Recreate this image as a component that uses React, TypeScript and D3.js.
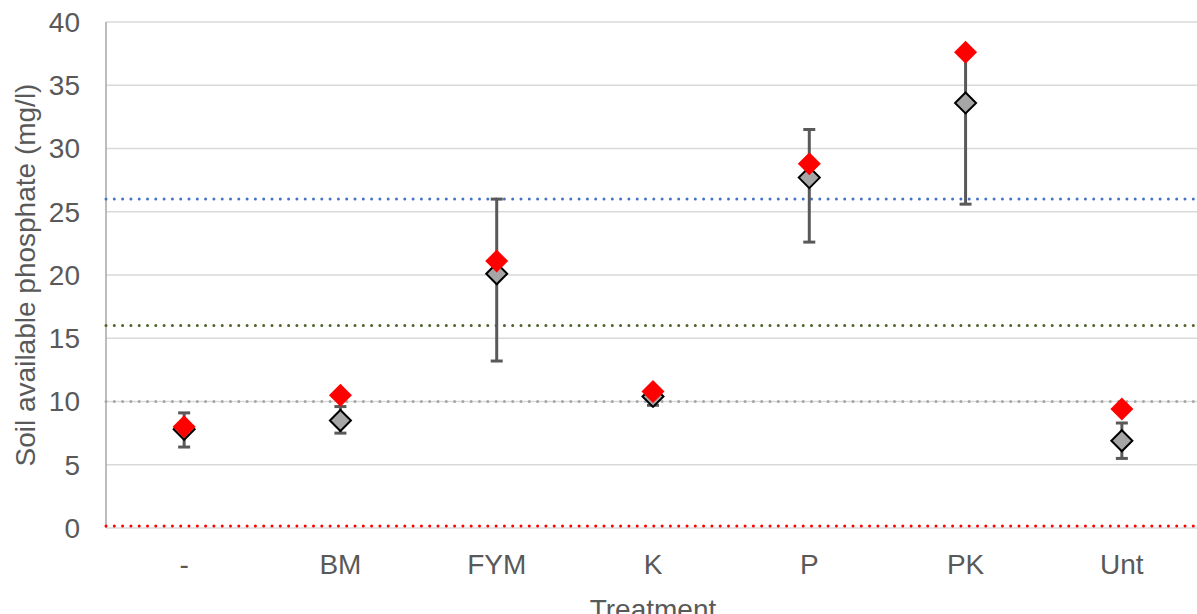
import React from "react";
import * as d3 from "d3";

const categories = ["-", "BM", "FYM", "K", "P", "PK", "Unt"];
const grayValues = [7.8, 8.5, 20.1, 10.4, 27.7, 33.6, 6.9];
const redValues = [8.0, 10.5, 21.1, 10.8, 28.8, 37.6, 9.4];
const errLow = [6.4, 7.5, 13.2, 9.7, 22.6, 25.6, 5.5];
const errHigh = [9.1, 9.6, 26.0, 11.1, 31.5, 37.5, 8.3];
const yTicks = [0, 5, 10, 15, 20, 25, 30, 35, 40];
const refLines = [
  { value: 26, color: "#4472c4" },
  { value: 16, color: "#4f6228" },
  { value: 10, color: "#a6a6a6" },
  { value: 0.15, color: "#ff0000" },
];

export default function App() {
  const W = 1197, H = 614;
  const left = 106, right = 1200, top = 22, bottom = 528;
  const x = d3.scaleBand().domain(categories).range([left, right]);
  const y = d3.scaleLinear().domain([0, 40]).range([bottom, top]);
  const cx = (c: string) => (x(c) ?? 0) + x.bandwidth() / 2;
  const font = "'Liberation Sans', Arial, sans-serif";
  const fs = 28;
  const diamond = (px: number, py: number, r: number) =>
    `M${px},${py - r}L${px + r},${py}L${px},${py + r}L${px - r},${py}Z`;

  return (
    <svg width={W} height={H} style={{ position: "absolute", left: 0, top: 0 }}>
      <rect width={W} height={H} fill="#fff" />
      {yTicks.map((t) => (
        <line key={"g" + t} x1={left} x2={right} y1={y(t)} y2={y(t)} stroke="#d9d9d9" strokeWidth={1.5} />
      ))}
      <line x1={left} x2={left} y1={top} y2={bottom} stroke="#a6a6a6" strokeWidth={1.5} />
      {yTicks.map((t) => (
        <text key={"t" + t} x={80} y={y(t)} dy="0.35em" textAnchor="end" fontFamily={font} fontSize={fs} fill="#595959">
          {t}
        </text>
      ))}
      {refLines.map((r) => (
        <line key={"r" + r.value} x1={left} x2={right} y1={y(r.value)} y2={y(r.value)} stroke={r.color}
          strokeWidth={3} strokeDasharray="0 8.3" strokeLinecap="round" />
      ))}
      {categories.map((c, i) => (
        <g key={"e" + c}>
          <line x1={cx(c)} x2={cx(c)} y1={y(errLow[i])} y2={y(errHigh[i])} stroke="#595959" strokeWidth={3} />
          <line x1={cx(c) - 6} x2={cx(c) + 6} y1={y(errLow[i])} y2={y(errLow[i])} stroke="#595959" strokeWidth={3} />
          <line x1={cx(c) - 6} x2={cx(c) + 6} y1={y(errHigh[i])} y2={y(errHigh[i])} stroke="#595959" strokeWidth={3} />
        </g>
      ))}
      {categories.map((c, i) => (
        <path key={"d" + c} d={diamond(cx(c), y(grayValues[i]), 10.5)} fill="#a6a6a6" stroke="#000" strokeWidth={2} />
      ))}
      {categories.map((c, i) => (
        <path key={"r" + c} d={diamond(cx(c), y(redValues[i]), 11.5)} fill="#ff0000" />
      ))}
      {categories.map((c) => (
        <text key={"x" + c} x={cx(c)} y={574} textAnchor="middle" fontFamily={font} fontSize={fs} fill="#595959">
          {c}
        </text>
      ))}
      <text x={(left + right) / 2} y={619} textAnchor="middle" fontFamily={font} fontSize={fs} fill="#595959">
        Treatment
      </text>
      <text transform={`translate(35,275) rotate(-90)`} textAnchor="middle" fontFamily={font} fontSize={fs} fill="#595959">
        Soil available phosphate (mg/l)
      </text>
    </svg>
  );
}
